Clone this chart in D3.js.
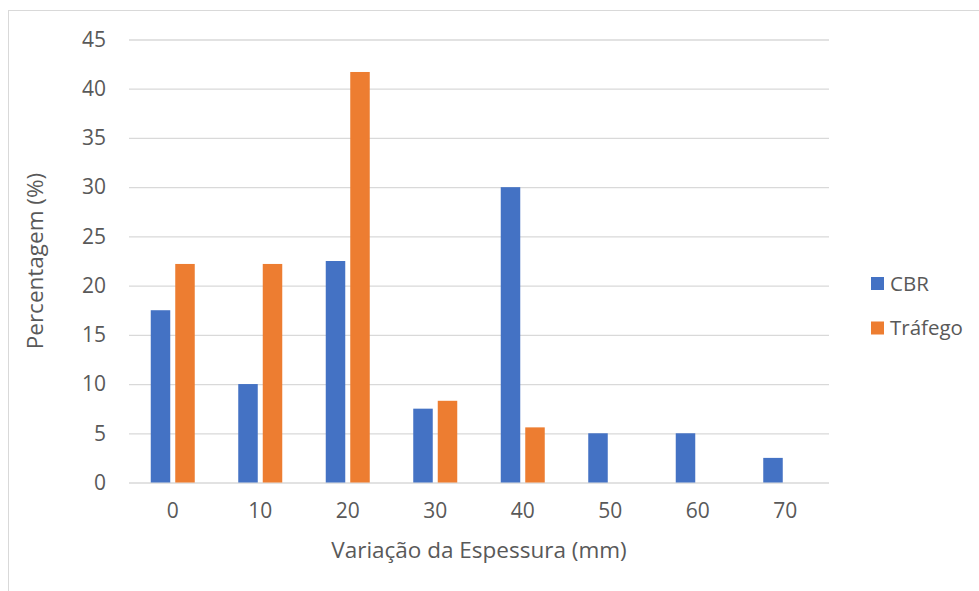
<!DOCTYPE html>
<html>
<head>
<meta charset="utf-8">
<script src="https://cdn.jsdelivr.net/npm/d3@7"></script>
<style>
  html, body { margin: 0; padding: 0; background: #fff; }
  svg { display: block; }
  text { font-family: "Open Sans", "Noto Sans", sans-serif; fill: #595959; }
</style>
</head>
<body>
<svg id="chart" width="979" height="591"></svg>
<script>
// Thickness variation classes (mm)
const categories = ["0", "10", "20", "30", "40", "50", "60", "70"];
const seriesNames = ["CBR", "Tráfego"];
const cbrValues = [17.5, 10, 22.5, 7.5, 30, 5, 5, 2.5];
const trafegoValues = [22.2, 22.2, 41.7, 8.3, 5.6, 0, 0, 0];
const yTicks = [0, 5, 10, 15, 20, 25, 30, 35, 40, 45];
const colors = ["#4472C4", "#ED7D31"];

const svg = d3.select("#chart");
const W = 979, H = 591;

// chart frame
svg.append("rect")
  .attr("x", 8.5).attr("y", 10.5)
  .attr("width", W + 10).attr("height", H + 10)
  .attr("fill", "none").attr("stroke", "#d9d9d9").attr("stroke-width", 1);

const plot = { left: 129, right: 829, top: 39.5, bottom: 482.5 };

const y = d3.scaleLinear().domain([0, 45]).range([plot.bottom, plot.top]);
const x0 = d3.scaleBand().domain(categories).range([plot.left, plot.right]).padding(0);
const clusterW = 44;
const x1 = d3.scaleBand().domain(seriesNames)
  .range([(x0.step() - clusterW) / 2, (x0.step() + clusterW) / 2])
  .paddingInner(0.204).paddingOuter(0);

// gridlines and y tick labels
const yAxis = d3.axisLeft(y).tickValues(yTicks).tickSize(-(plot.right - plot.left)).tickPadding(23);
const gy = svg.append("g").attr("transform", `translate(${plot.left},0)`).call(yAxis);
gy.select(".domain").remove();
gy.selectAll(".tick line").attr("stroke", "#d9d9d9").attr("stroke-width", 1.3);
gy.selectAll(".tick text")
  .style("font-size", "21px").style("fill", "#595959")
  .style("font-family", "'Open Sans', sans-serif");

// bars
const rows = categories.map((c, i) => ({ cat: c, vals: [cbrValues[i], trafegoValues[i]] }));
const groups = svg.append("g").selectAll("g").data(rows).join("g")
  .attr("transform", d => `translate(${x0(d.cat)},0)`);
groups.selectAll("rect")
  .data(d => d.vals.map((v, j) => ({ name: seriesNames[j], v, j })))
  .join("rect")
  .filter(d => d.v > 0)
  .attr("x", d => x1(d.name))
  .attr("y", d => y(d.v))
  .attr("width", x1.bandwidth())
  .attr("height", d => y(0) - y(d.v))
  .attr("fill", d => colors[d.j]);

// x axis labels
const xAxis = d3.axisBottom(x0).tickSize(0).tickPadding(21);
const gx = svg.append("g").attr("transform", `translate(0,${plot.bottom})`).call(xAxis);
gx.select(".domain").remove();
gx.selectAll(".tick text")
  .style("font-size", "21px").style("fill", "#595959")
  .style("font-family", "'Open Sans', sans-serif");

// axis titles
svg.append("text")
  .attr("x", (plot.left + plot.right) / 2).attr("y", 550).attr("dy", "0.35em")
  .attr("text-anchor", "middle").style("font-size", "22.5px")
  .text("Variação da Espessura (mm)");
svg.append("text")
  .attr("transform", `translate(35,${(plot.top + plot.bottom) / 2}) rotate(-90)`)
  .attr("text-anchor", "middle").attr("dy", "0.35em").style("font-size", "22.5px")
  .text("Percentagem (%)");

// legend
const legend = svg.append("g").attr("transform", "translate(871,277)");
seriesNames.forEach((name, i) => {
  const g = legend.append("g").attr("transform", `translate(0,${i * 44.5})`);
  g.append("rect").attr("width", 13).attr("height", 13).attr("fill", colors[i]);
  g.append("text").attr("x", 19).attr("y", 6.5).attr("dy", "0.35em")
    .style("font-size", "20.5px").text(name);
});
</script>
</body>
</html>
